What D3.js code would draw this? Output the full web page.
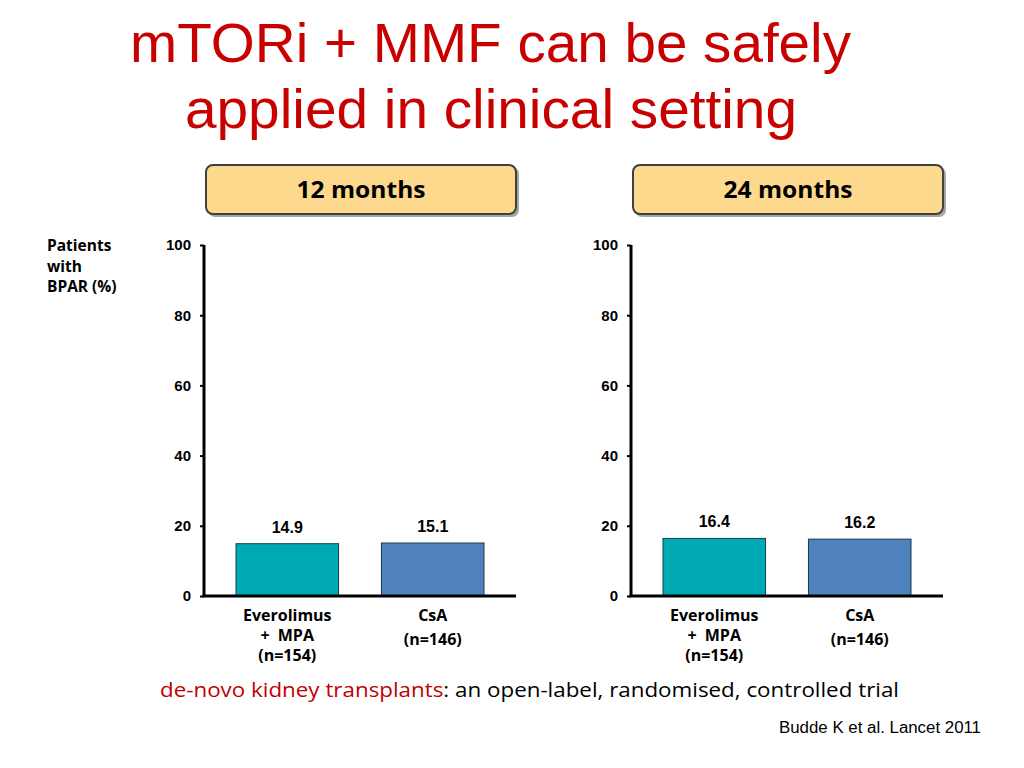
<!DOCTYPE html>
<html><head><meta charset="utf-8">
<script src="https://cdn.jsdelivr.net/npm/d3@7"></script>
<style>body{margin:0;background:#fff}svg{display:block}</style>
</head><body><svg id="c" width="1024" height="768"></svg>
<script>
const panels = ["12 months", "24 months"];
const categories = ["Everolimus + MPA", "CsA"];
const categoryLines = [["Everolimus", "+\u2002MPA", "(n=154)"], ["CsA", "(n=146)"]];
const values12 = [14.9, 15.1];
const values24 = [16.4, 16.2];
const yTicks = [0, 20, 40, 60, 80, 100];
const barColors = ["#00AAB5", "#4F81BD"];

const svg = d3.select("#c");
const y = d3.scaleLinear().domain([0, 100]).range([596, 245]);

// title
const tAttrs = (s) => s.attr("font-family", "Liberation Sans, Arial, sans-serif")
  .attr("font-size", 56).attr("fill", "#C80000").attr("lengthAdjust", "spacingAndGlyphs");
svg.append("text").call(tAttrs).attr("x", 130).attr("y", 62).attr("textLength", 721)
  .text("mTORi + MMF can be safely");
svg.append("text").call(tAttrs).attr("x", 185).attr("y", 128).attr("textLength", 612)
  .text("applied in clinical setting");

// y label
const yl = svg.append("text").attr("font-family", "Open Sans, Noto Sans, sans-serif")
  .attr("font-weight", "bold").attr("font-size", 15.5).attr("fill", "#000");
["Patients", "with", "BPAR (%)"].forEach((t, i) =>
  yl.append("tspan").attr("x", 47).attr("y", 251 + i * 20.5).text(t));

const panelData = [values12, values24];
const offsets = [204, 631];

panelData.forEach((vals, pi) => {
  const x0 = offsets[pi];
  const x = d3.scaleBand().domain(categories).range([x0, x0 + 312])
    .paddingInner(0.295).paddingOuter(0.22);
  const g = svg.append("g");

  // header box
  const hb = g.append("g");
  hb.append("rect").attr("x", x0 + 4).attr("y", 167).attr("width", 311).attr("height", 50)
    .attr("rx", 7).attr("fill", "#808080").attr("opacity", 0.7);
  hb.append("rect").attr("x", x0 + 2).attr("y", 165).attr("width", 310).attr("height", 49)
    .attr("rx", 7).attr("fill", "#FCD98C").attr("stroke", "#404040").attr("stroke-width", 2);
  hb.append("text").attr("x", x0 + 157).attr("y", 198).attr("text-anchor", "middle")
    .attr("font-family", "Open Sans, Noto Sans, sans-serif").attr("font-weight", "bold")
    .attr("font-size", 24).attr("textLength", 129).attr("lengthAdjust", "spacingAndGlyphs")
    .attr("fill", "#000").text(panels[pi]);

  // bars
  g.selectAll("rect.bar").data(vals).enter().append("rect").attr("class", "bar")
    .attr("x", (d, i) => x(categories[i])).attr("width", x.bandwidth())
    .attr("y", d => y(d)).attr("height", d => y(0) - y(d))
    .attr("fill", (d, i) => barColors[i]).attr("stroke", "#1a3a4a").attr("stroke-width", 1);

  // value labels
  g.selectAll("text.val").data(vals).enter().append("text").attr("class", "val")
    .attr("x", (d, i) => x(categories[i]) + x.bandwidth() / 2)
    .attr("y", d => y(d) - 11).attr("text-anchor", "middle")
    .attr("font-family", "Liberation Sans, Arial, sans-serif").attr("font-weight", "bold")
    .attr("font-size", 16).attr("fill", "#000").text(d => d.toFixed(1));

  // y axis
  const ya = g.append("g").attr("transform", `translate(${x0},0)`)
    .call(d3.axisLeft(y).tickValues(yTicks).tickSize(4).tickPadding(9));
  ya.select(".domain").attr("stroke", "#000").attr("stroke-width", 3)
    .attr("d", `M0,${y(100)}V${y(0)}`);
  ya.selectAll(".tick line").attr("stroke", "#000").attr("stroke-width", 2);
  ya.selectAll(".tick text").attr("font-family", "Liberation Sans, Arial, sans-serif")
    .attr("font-weight", "bold").attr("font-size", 15).attr("fill", "#000");

  // x axis
  const xa = g.append("g").attr("transform", `translate(0,${y(0)})`)
    .call(d3.axisBottom(x).tickSize(0).tickFormat(""));
  xa.select(".domain").attr("stroke", "#000").attr("stroke-width", 3)
    .attr("d", `M${x0 - 1.5},0H${x0 + 312}`);

  // category labels
  categories.forEach((c, i) => {
    const t = g.append("text").attr("text-anchor", "middle")
      .attr("font-family", "Open Sans, Noto Sans, sans-serif").attr("font-weight", "bold")
      .attr("font-size", 16).attr("fill", "#000");
    const lines = categoryLines[i];
    const cx = x(c) + x.bandwidth() / 2;
    const ys = lines.length === 3 ? [621, 641, 661] : [621, 645];
    lines.forEach((l, k) => t.append("tspan").attr("x", cx).attr("y", ys[k]).text(l));
  });
});

// subtitle
const st = svg.append("text").attr("x", 160).attr("y", 697)
  .attr("font-family", "Open Sans, Noto Sans, sans-serif").attr("font-size", 19.5)
  .attr("textLength", 739).attr("lengthAdjust", "spacingAndGlyphs").attr("fill", "#000");
st.append("tspan").attr("fill", "#C00000").text("de-novo kidney transplants");
st.append("tspan").text(": an open-label, randomised, controlled trial");

svg.append("text").attr("x", 779).attr("y", 733)
  .attr("font-family", "Liberation Sans, Arial, sans-serif").attr("font-size", 16)
  .attr("textLength", 202).attr("lengthAdjust", "spacingAndGlyphs")
  .attr("fill", "#000").text("Budde K et al. Lancet 2011");
</script></body></html>
